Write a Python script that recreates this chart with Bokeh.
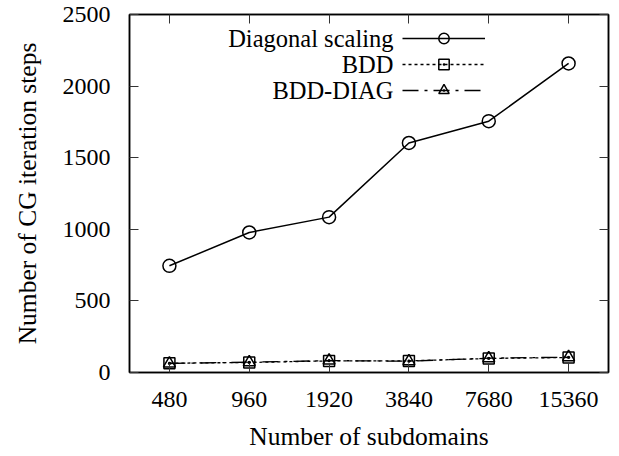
from bokeh.plotting import figure
from bokeh.models import (Range1d, FixedTicker, LinearAxis, Legend, LegendItem,
                          Label, CustomJSTickFormatter)
from bokeh.core.properties import value
from bokeh.embed import file_html
from bokeh.resources import INLINE

# ---- data ----
categories = ["480", "960", "1920", "3840", "7680", "15360"]
diag_scaling = [745, 978, 1085, 1603, 1755, 2158]
bdd = [65, 70, 81, 81, 98, 105]
bdd_diag = [63, 72, 83, 79, 100, 107]
y_ticks = [0, 500, 1000, 1500, 2000, 2500]
series_names = ["Diagonal scaling", "BDD", "BDD-DIAG"]
x_label = "Number of subdomains"
y_label = "Number of CG iteration steps"

FONT = "Liberation Serif"
FS = "24px"
FS_LABEL = "25.5px"
FS_LEGEND = "24.5px"

xs = list(range(len(categories)))

p = figure(width=619, height=456, output_backend="svg", toolbar_location=None,
           x_range=Range1d(-0.5, len(categories) - 0.5),
           y_range=Range1d(y_ticks[0], y_ticks[-1]),
           min_border_left=129, min_border_right=11,
           min_border_top=14, min_border_bottom=84)

p.xgrid.visible = False
p.ygrid.visible = False
p.outline_line_color = "black"
p.outline_line_width = 1.5
p.background_fill_color = "white"
p.border_fill_color = "white"

xticker = FixedTicker(ticks=xs)
yticker = FixedTicker(ticks=y_ticks)


def style_axis(ax):
    ax.major_tick_in = 9
    ax.major_tick_out = 0
    ax.minor_tick_in = 0
    ax.minor_tick_out = 0
    ax.major_tick_line_color = "#333333"
    ax.major_tick_line_width = 1
    ax.axis_line_color = "black"
    ax.axis_line_width = 1.5
    ax.major_label_text_font = FONT
    ax.major_label_text_font_size = FS
    ax.major_label_text_color = "black"
    ax.axis_label_text_font = FONT
    ax.axis_label_text_font_size = FS_LABEL
    ax.axis_label_text_font_style = "normal"
    ax.axis_label_text_color = "black"


xa = p.xaxis[0]
xa.ticker = xticker
xa.major_label_overrides = {i: c for i, c in zip(xs, categories)}
style_axis(xa)
xa.major_label_standoff = 19
xa.axis_label = x_label
xa.axis_label_standoff = 12

ya = p.yaxis[0]
ya.ticker = yticker
style_axis(ya)
ya.major_label_standoff = 19
ya.axis_label = y_label
ya.axis_label_standoff = 18

# mirrored ticks on the top and right edges (no labels)
blank = CustomJSTickFormatter(code="return '';")
top_ax = LinearAxis(ticker=xticker, formatter=blank)
style_axis(top_ax)
top_ax.major_label_standoff = 0
p.add_layout(top_ax, "above")
right_ax = LinearAxis(ticker=yticker, formatter=blank)
style_axis(right_ax)
right_ax.major_label_standoff = 0
p.add_layout(right_ax, "right")

# ---- series ----
l1 = p.line(xs, diag_scaling, line_color="black", line_width=1.5)
m1 = p.scatter(xs, diag_scaling, marker="circle", size=13, line_color="black",
               line_width=1.5, fill_color=None)

l2 = p.line(xs, bdd, line_color="black", line_width=1.3, line_dash="3 3")
m2 = p.scatter(xs, bdd, marker="square_dot", size=11, line_color="black",
               line_width=1.5, fill_color=None)

l3 = p.line(xs, bdd_diag, line_color="black", line_width=1.3, line_dash="16 6 3 6")
m3 = p.scatter(xs, bdd_diag, marker="triangle_dot", size=12, line_color="black",
               line_width=1.5, fill_color=None)

legend = Legend(items=[
    LegendItem(label=value(""), renderers=[l1, m1]),
    LegendItem(label=value(""), renderers=[l2, m2]),
    LegendItem(label=value(""), renderers=[l3, m3]),
], location=(273, 269), glyph_width=83, glyph_height=26, spacing=0,
    padding=0, margin=0, label_standoff=0, label_width=0,
    label_text_font=FONT, label_text_font_size=FS_LEGEND,
    border_line_alpha=0, background_fill_alpha=0)
p.add_layout(legend)

# legend texts, right-aligned to the left of the line samples
for name, ly in zip(series_names, [2334, 2153, 1972]):
    p.add_layout(Label(x=2.807, y=ly, text=name, text_align="right",
                       text_baseline="middle", text_font=FONT,
                       text_font_size=FS_LEGEND, text_color="black"))

open("out.html", "w").write(file_html(p, INLINE))
